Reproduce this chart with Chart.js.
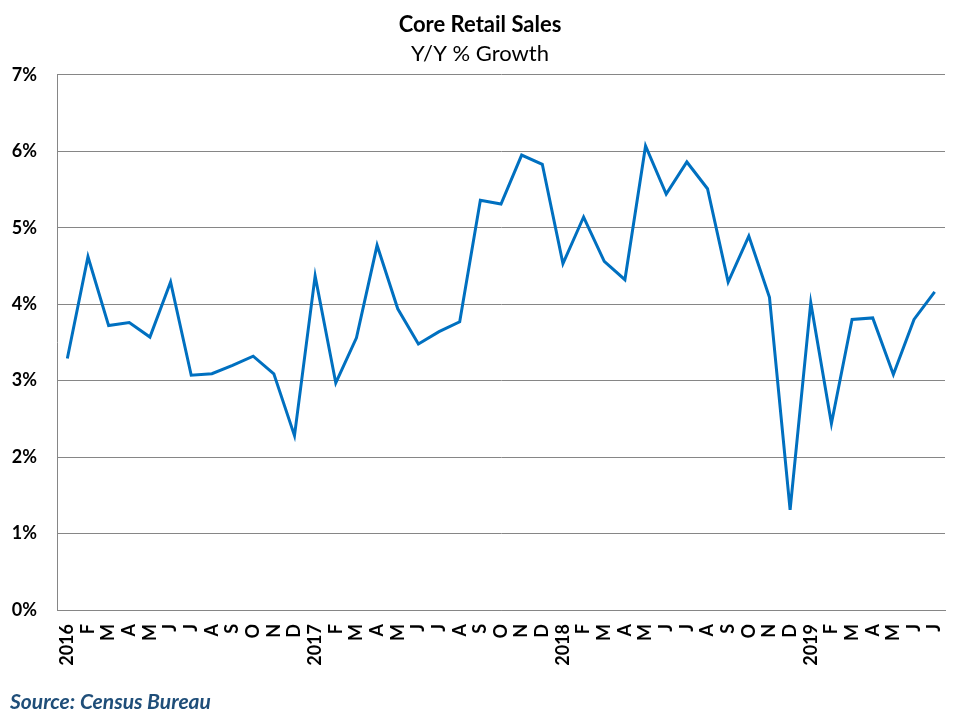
<!DOCTYPE html>
<html>
<head>
<meta charset="utf-8">
<title>Core Retail Sales</title>
<script src="https://cdn.jsdelivr.net/npm/chart.js@4.4.1/dist/chart.umd.min.js"></script>
<style>
  body { margin: 0; background: #fff; }
  #wrap { width: 960px; height: 720px; }
</style>
</head>
<body>
<div id="wrap"><canvas id="chart" width="960" height="720"></canvas></div>
<script>
const months = ["2016", "F", "M", "A", "M", "J", "J", "A", "S", "O", "N", "D",
  "2017", "F", "M", "A", "M", "J", "J", "A", "S", "O", "N", "D",
  "2018", "F", "M", "A", "M", "J", "J", "A", "S", "O", "N", "D",
  "2019", "F", "M", "A", "M", "J", "J"];

// Y/Y % growth
const growth2016 = [3.29, 4.62, 3.72, 3.76, 3.57, 4.29, 3.07, 3.09, 3.20, 3.32, 3.09, 2.28];
const growth2017 = [4.37, 2.97, 3.56, 4.77, 3.94, 3.48, 3.64, 3.77, 5.36, 5.31, 5.95, 5.83];
const growth2018 = [4.53, 5.14, 4.56, 4.32, 6.07, 5.44, 5.86, 5.51, 4.29, 4.89, 4.09, 1.31];
const growth2019 = [4.02, 2.44, 3.80, 3.82, 3.08, 3.80, 4.16];

const yTicks = [0, 1, 2, 3, 4, 5, 6, 7];

document.addEventListener("DOMContentLoaded", function () {
  const ctx = document.getElementById("chart").getContext("2d");
  const font = "Lato, 'Open Sans', sans-serif";

  // source note in the bottom-left corner
  const sourceNote = {
    id: "sourceNote",
    afterDraw(chart) {
      const c = chart.ctx;
      c.save();
      c.font = "italic bold 21px " + font;
      c.fillStyle = "#1F4E79";
      c.textBaseline = "middle";
      c.fillText("Source: Census Bureau", 10, 702);
      c.restore();
    }
  };

  new Chart(ctx, {
    type: "line",
    data: {
      labels: months,
      datasets: [{
        data: growth2016.concat(growth2017, growth2018, growth2019),
        borderColor: "#0070C0",
        borderWidth: 3,
        pointRadius: 0,
        tension: 0,
        fill: false
      }]
    },
    options: {
      responsive: false,
      devicePixelRatio: 1,
      animation: false,
      layout: { padding: 0 },
      plugins: {
        legend: { display: false },
        tooltip: { enabled: false },
        title: {
          display: true,
          text: "Core Retail Sales",
          color: "#000",
          font: { family: font, size: 22, weight: "bold" },
          padding: { top: 12, bottom: 2 }
        },
        subtitle: {
          display: true,
          text: "Y/Y % Growth",
          color: "#000",
          font: { family: font, size: 22, weight: "normal" },
          padding: { top: 0, bottom: 8 }
        }
      },
      scales: {
        x: {
          offset: true,
          grid: { display: false, drawTicks: false, offset: true },
          border: { display: true, color: "#868686", width: 1 },
          ticks: {
            autoSkip: false,
            maxRotation: 90,
            minRotation: 90,
            padding: 14,
            color: "#000",
            font: { family: font, size: 18, weight: "bold" }
          },
          afterFit: function (scale) {
            scale.height = 110;
            scale.paddingLeft = 0;
            scale.paddingRight = 15;
          }
        },
        y: {
          min: 0,
          max: 7,
          afterBuildTicks: function (scale) {
            scale.ticks = yTicks.map(v => ({ value: v }));
          },
          grid: { color: "#868686", lineWidth: 1, drawTicks: false },
          border: { display: true, color: "#868686", width: 1 },
          ticks: {
            padding: 20,
            color: "#000",
            font: { family: font, size: 18, weight: "bold" },
            callback: v => v + "%"
          },
          afterFit: function (scale) { scale.width = 57; }
        }
      }
    },
    plugins: [sourceNote]
  });
});
</script>
</body>
</html>
